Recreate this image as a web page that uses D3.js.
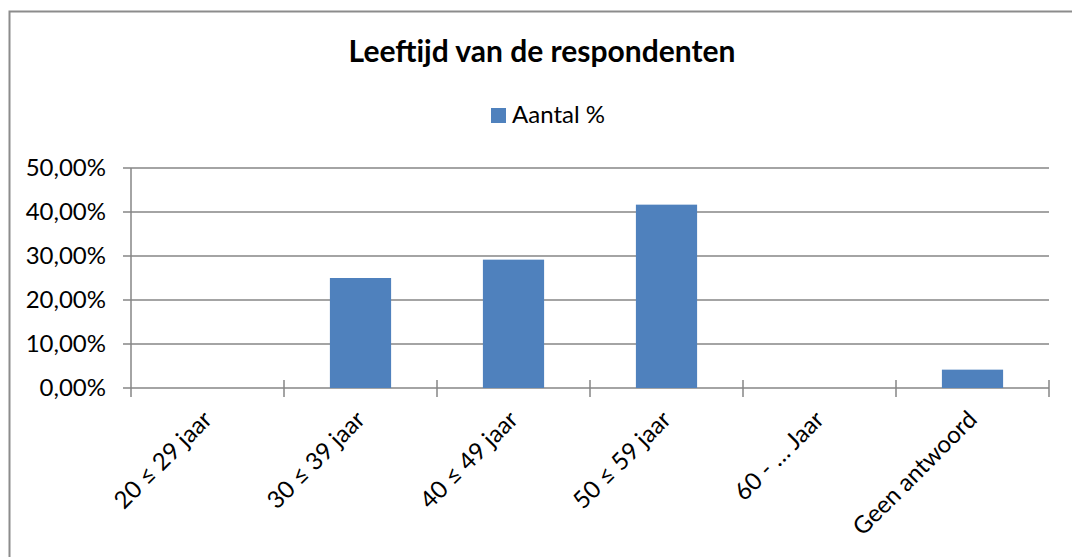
<!DOCTYPE html>
<html>
<head>
<meta charset="utf-8">
<script src="https://cdn.jsdelivr.net/npm/d3@7"></script>
<style>
  body { margin: 0; background: #fff; }
  text { font-family: Lato, "Open Sans", sans-serif; fill: #000; }
</style>
</head>
<body>
<div id="chart"></div>
<script>
const width = 1072;
const height = 557;

const categories = ["20 ≤ 29 jaar", "30 ≤ 39 jaar", "40 ≤ 49 jaar", "50 ≤ 59 jaar", "60 -  … Jaar", "Geen antwoord"];
const values = [0, 25.0, 29.17, 41.67, 0, 4.17];
const yTicks = [0, 10, 20, 30, 40, 50];
const seriesName = "Aantal %";
const title = "Leeftijd van de respondenten";

const margin = {top: 168, right: 23, bottom: 169, left: 131};

const svg = d3.select("#chart").append("svg")
    .attr("width", width)
    .attr("height", height);

// chart frame (right/bottom edges are cut off in the original)
svg.append("rect")
  .attr("x", 9.5)
  .attr("y", 11.5)
  .attr("width", width + 20)
  .attr("height", height + 20)
  .style("fill", "none")
  .style("stroke", "#8c8c8c")
  .style("stroke-width", 2);

const x = d3.scaleBand()
  .domain(categories)
  .range([margin.left, width - margin.right])
  .padding(0);

const y = d3.scaleLinear()
  .domain([0, 50])
  .range([height - margin.bottom, margin.top]);

const fmt = d => d3.format(".2f")(d).replace(".", ",") + "%";

// gridlines
svg.append("g")
  .selectAll("line")
  .data(yTicks)
  .enter().append("line")
  .attr("x1", margin.left - 8)
  .attr("x2", width - margin.right)
  .attr("y1", d => y(d))
  .attr("y2", d => y(d))
  .style("stroke", "#868686")
  .style("stroke-width", 1.5);

// y axis labels
svg.append("g")
  .selectAll("text")
  .data(yTicks)
  .enter().append("text")
  .attr("x", 106)
  .attr("y", d => y(d))
  .attr("dy", "0.35em")
  .attr("text-anchor", "end")
  .style("font-size", "24px")
  .text(fmt);

// y axis line
svg.append("line")
  .attr("x1", margin.left)
  .attr("x2", margin.left)
  .attr("y1", y(50))
  .attr("y2", y(0) + 9)
  .style("stroke", "#868686")
  .style("stroke-width", 1.5);

// category ticks
const edges = categories.map(c => x(c)).concat([x(categories[categories.length - 1]) + x.bandwidth()]);
svg.append("g")
  .selectAll("line")
  .data(edges.slice(1))
  .enter().append("line")
  .attr("x1", d => d)
  .attr("x2", d => d)
  .attr("y1", y(0) - 8)
  .attr("y2", y(0) + 9)
  .style("stroke", "#868686")
  .style("stroke-width", 1.5);

// bars
const barW = x.bandwidth() * 0.4;
svg.append("g")
  .selectAll("rect")
  .data(values)
  .enter().append("rect")
  .attr("x", (d, i) => x(categories[i]) + (x.bandwidth() - barW) / 2)
  .attr("y", d => y(d))
  .attr("width", barW)
  .attr("height", d => y(0) - y(d))
  .style("fill", "#4f81bd");

// x labels, rotated
svg.append("g")
  .selectAll("text")
  .data(categories)
  .enter().append("text")
  .attr("transform", d => `translate(${x(d) + x.bandwidth() / 2},${y(0) + 27}) rotate(-45)`)
  .attr("text-anchor", "end")
  .attr("dy", "0.35em")
  .style("font-size", "24px")
  .text(d => d);

// title
svg.append("text")
  .attr("x", 542)
  .attr("y", 62)
  .attr("text-anchor", "middle")
  .style("font-size", "30px")
  .style("font-weight", "bold")
  .text(title);

// legend
svg.append("rect")
  .attr("x", 491)
  .attr("y", 108)
  .attr("width", 15)
  .attr("height", 15)
  .style("fill", "#4f81bd");

svg.append("text")
  .attr("x", 512)
  .attr("y", 123)
  .style("font-size", "24px")
  .text(seriesName);
</script>
</body>
</html>
